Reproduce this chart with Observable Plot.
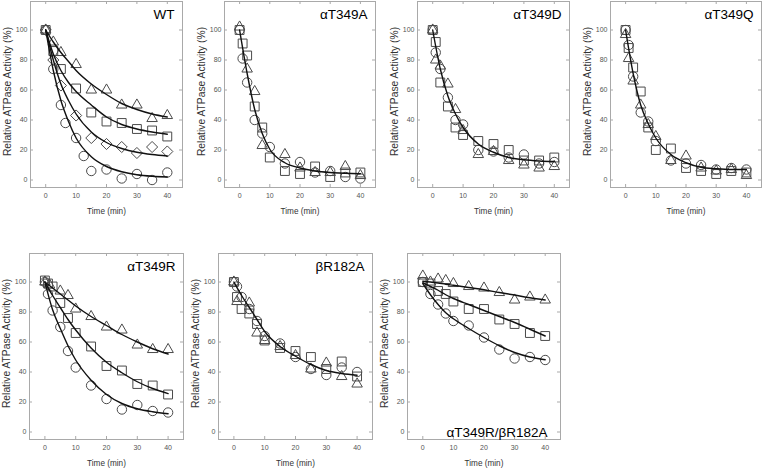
<!DOCTYPE html>
<html><head><meta charset="utf-8">
<script src="https://cdn.jsdelivr.net/npm/d3@7"></script>
<script src="https://cdn.jsdelivr.net/npm/@observablehq/plot@0.6"></script>
<style>
html,body{margin:0;padding:0;background:#fff;}
#chart{position:relative;width:763px;height:472px;overflow:hidden;background:#fff;}
#chart svg{position:absolute;}
</style></head><body><div id="chart"></div>
<script>
// ---------- shared labels / ticks ----------
const xTicks = [0, 10, 20, 30, 40];
const yTicks = [0, 20, 40, 60, 80, 100];
const yLabel = "Relative ATPase Activity (%)";
const xLabel = "Time (min)";
const panelTitles = ["WT", "αT349A", "αT349D", "αT349Q", "αT349R", "βR182A", "αT349R/βR182A"];
const fitTime = [0, 2.5, 5, 7.5, 10, 15, 20, 25, 30, 35, 40];
const sampleTime = [0, 1, 2.5, 5, 7.5, 10, 15, 20, 25, 30, 35, 40];

// ---------- WT ----------
const wtTriangleTime = [0, 2.5, 5, 10, 15, 20, 25, 30, 35, 40];
const wtTriangle = [100, 92, 85, 77, 60, 60, 50, 50, 41, 43];
const wtSquareTime = [0, 2.5, 5, 10, 15, 20, 25, 30, 35, 40];
const wtSquare = [100, 86, 74, 61, 45, 39, 38, 34, 33, 29];
const wtDiamondTime = [0, 2.5, 5, 10, 15, 20, 25, 30, 35, 40];
const wtDiamond = [100, 80, 63, 43, 28, 24, 22, 18, 22, 19];
const wtCircleTime = [0, 2.5, 5, 6.5, 10, 12.5, 15, 20, 25, 30, 35, 40];
const wtCircle = [100, 74, 50, 38, 28, 16, 6, 7, 1, 4, 0, 5];
const wtTriangleFit = [100, 92, 85, 79, 73, 64, 57, 51, 47, 44, 42];
const wtSquareFit = [100, 84, 73, 65, 59, 50, 42, 37, 34, 32, 30.5];
const wtDiamondFit = [100, 80, 64, 53, 44, 32, 25, 21, 18.5, 17, 16];
const wtCircleFit = [100, 73, 53, 39, 28, 15.5, 9, 5.5, 3.5, 2.5, 2];

// ---------- αT349A ----------
const aTriangleTime = [0, 2.5, 5, 7.5, 15, 20, 25, 30, 35, 40];
const aTriangle = [102, 74, 59, 23, 17, 8, 5, 5, 9, 3];
const aSquare = [100, 91, 83, 49, 35, 15, 6, 4, 9, 2, 5, 5];
const aCircle = [100, 81, 65, 40, 31, 22, 11, 12, 5, 6, 2, 1];
const aFit = [100, 71, 47, 31, 20.5, 11.5, 8, 6, 5, 4.5, 4.2];

// ---------- αT349D ----------
const dTriangle = [100, 80, 76, 64, 47, 33, 17, 19, 13, 10, 8, 9];
const dSquare = [100, 92, 65, 49, 35, 30, 26, 24, 20, 13, 13, 15];
const dCircle = [100, 85, 74, 55, 40, 37, 20, 19, 15, 17, 11, 12];
const dFit = [100, 74, 56, 44, 35, 24, 18.5, 15, 13.5, 12.7, 12.3];

// ---------- αT349Q ----------
const qTriangle = [97, 81, 66, 50, 37, 29, 13, 16, 8, 6, 7, 3];
const qSquare = [100, 88, 75, 59, 35, 20, 21, 8, 6, 4, 6, 5];
const qCircle = [100, 90, 69, 45, 39, 26, 13, 11, 10, 7, 8, 7];
const qFit = [100, 71, 50, 37.5, 28, 17, 11.5, 8.5, 7.5, 7, 7];

// ---------- αT349R ----------
const rTriangleTime = [0, 1.5, 5, 7.5, 10, 15, 20, 25, 30, 35, 40];
const rTriangle = [100, 98, 94, 91, 82, 77, 70, 68, 58, 55, 55];
const rSquare = [101, 99, 97, 86, 76, 66, 57, 44, 41, 32, 31, 25];
const rCircle = [100, 92, 81, 70, 54, 43, 31, 22, 15, 18, 14, 13];
const rTriangleFit = [100, 96, 92, 88, 84, 77, 71, 65, 60, 55.5, 52];
const rSquareFit = [100, 91, 83, 75, 68, 56, 46.5, 39.5, 33.5, 29, 25.6];
const rCircleFit = [100, 81.5, 69, 57.5, 48, 34.5, 25, 19, 15.5, 13.5, 12.2];

// ---------- βR182A ----------
const bTriangleTime = [0, 1, 5, 7.5, 10, 15, 20, 25, 30, 35, 40];
const bTriangle = [100, 87, 86, 66, 61, 57, 51, 42, 46, 37, 32];
const bSquare = [100, 90, 82, 79, 72, 61, 56, 54, 50, 42, 47, 37];
const bCircle = [100, 97, 90, 82, 74, 64, 59, 50, 42, 38, 43, 40];
const bFit = [100, 91, 83, 75, 67, 57, 50.5, 45, 41, 39, 37.8];

// ---------- αT349R/βR182A ----------
const rbTime = [0, 2.5, 5, 7.5, 10, 15, 20, 25, 30, 35, 40];
const rbTriangle = [104, 100, 102, 101, 99, 97, 96, 93, 88, 90, 88];
const rbSquare = [100, 99, 94, 92, 87, 82, 82, 75, 72, 66, 64];
const rbCircle = [100, 92, 85, 79, 74, 71, 63, 55, 49, 50, 48];
const rbTriangleFit = [100.5, 100, 99.3, 98.5, 97.8, 96.3, 94.8, 93, 91.3, 89.5, 88];
const rbSquareFit = [99.5, 97, 94.5, 91.5, 89, 85, 81, 77, 73, 68.5, 64];
const rbCircleFit = [99, 91.5, 85, 79.5, 75.5, 69, 63, 57.5, 53, 50, 48.2];

// ---------- build panel tables ----------
const toRows = (t, v) => t.map((x, i) => ({t: x, v: v[i]}));
const S = (sym, t, v) => ({symbol: sym, rows: toRows(t, v)});

const panels = [
  {title: panelTitles[0], frameLeft: 30, frameWidth: 152, row: 0, corner: "top",
   series: [S("triangle", wtTriangleTime, wtTriangle), S("square", wtSquareTime, wtSquare),
            S("diamond2", wtDiamondTime, wtDiamond), S("circle", wtCircleTime, wtCircle)],
   fits: [wtTriangleFit, wtSquareFit, wtDiamondFit, wtCircleFit]},
  {title: panelTitles[1], frameLeft: 224, frameWidth: 151, row: 0, corner: "top",
   series: [S("triangle", aTriangleTime, aTriangle), S("square", sampleTime, aSquare), S("circle", sampleTime, aCircle)],
   fits: [aFit]},
  {title: panelTitles[2], frameLeft: 416.5, frameWidth: 152, row: 0, corner: "top",
   series: [S("triangle", sampleTime, dTriangle), S("square", sampleTime, dSquare), S("circle", sampleTime, dCircle)],
   fits: [dFit]},
  {title: panelTitles[3], frameLeft: 610, frameWidth: 151, row: 0, corner: "top",
   series: [S("triangle", sampleTime, qTriangle), S("square", sampleTime, qSquare), S("circle", sampleTime, qCircle)],
   fits: [qFit]},
  {title: panelTitles[4], frameLeft: 29, frameWidth: 154, row: 1, corner: "top",
   series: [S("triangle", rTriangleTime, rTriangle), S("square", sampleTime, rSquare), S("circle", sampleTime, rCircle)],
   fits: [rTriangleFit, rSquareFit, rCircleFit]},
  {title: panelTitles[5], frameLeft: 218, frameWidth: 154, row: 1, corner: "top",
   series: [S("triangle", bTriangleTime, bTriangle), S("square", sampleTime, bSquare), S("circle", sampleTime, bCircle)],
   fits: [bFit]},
  {title: panelTitles[6], frameLeft: 406.5, frameWidth: 153, row: 1, corner: "bottom",
   series: [S("triangle", rbTime, rbTriangle), S("square", rbTime, rbSquare), S("circle", rbTime, rbCircle)],
   fits: [rbTriangleFit, rbSquareFit, rbCircleFit]}
];

const rowsLayout = [{top: 0, marginTop: 1, height: 230}, {top: 240, marginTop: 13, height: 232}];
const frameH = 186;
const grey = "#a9a9a9";
const symbolR = {circle: 4.7, square: 5, triangle: 3.9, diamond2: 5};
const chart = document.getElementById("chart");

for (const p of panels) {
  const row = rowsLayout[p.row];
  const mL = 36, mR = 1;
  const fw = p.frameWidth;
  const marks = [
    Plot.frame({stroke: grey}),
    Plot.tickY(yTicks, {y: d => d, insetRight: fw - 3, stroke: grey}),
    Plot.tickY(yTicks, {y: d => d, insetLeft: fw - 3, stroke: grey}),
    Plot.tickX(xTicks, {x: d => d, insetTop: frameH - 3, stroke: grey}),
    Plot.tickX(xTicks, {x: d => d, insetBottom: frameH - 3, stroke: grey}),
    Plot.axisY({ticks: yTicks, tickSize: 0, tickPadding: 3, fontSize: 7, color: "#555", label: null}),
    Plot.axisX({ticks: xTicks, tickSize: 0, tickPadding: 6, fontSize: 7, color: "#555", label: null}),
    Plot.text([yLabel], {text: d => d, frameAnchor: "left", textAnchor: "middle", rotate: -90,
      dx: -23, dy: -3, fontSize: 10.3, fill: "#333"}),
    Plot.text([xLabel], {text: d => d, frameAnchor: "bottom", dy: 26, fontSize: 8.2, fill: "#333"})
  ];
  for (const s of p.series) {
    marks.push(Plot.dot(s.rows, {x: "t", y: "v", symbol: s.symbol, r: symbolR[s.symbol],
      stroke: "#4a4a4a", strokeWidth: 1, fill: "none"}));
  }
  for (const f of p.fits) {
    marks.push(Plot.line(toRows(fitTime, f), {x: "t", y: "v", curve: "monotone-x", stroke: "#111", strokeWidth: 1.4}));
  }
  if (p.corner === "top") {
    marks.push(Plot.text([p.title], {text: d => d, frameAnchor: "top-right", textAnchor: "end",
      lineAnchor: "middle", dx: -8, dy: 13.4, fontSize: 13.5, fill: "#000"}));
  } else {
    marks.push(Plot.text([p.title], {text: d => d, frameAnchor: "bottom-right", textAnchor: "end",
      lineAnchor: "middle", dx: -13, dy: -7.3, fontSize: 13.5, fill: "#000"}));
  }
  const svg = Plot.plot({
    width: mL + fw + mR,
    height: row.height,
    marginLeft: mL, marginRight: mR,
    marginTop: row.marginTop, marginBottom: row.height - row.marginTop - frameH,
    x: {domain: [-5, 45]},
    y: {domain: [-5, 119]},
    style: {fontFamily: "'Liberation Sans', Arial, sans-serif", background: "none", overflow: "visible"},
    marks
  });
  svg.style.left = (p.frameLeft - mL) + "px";
  svg.style.top = row.top + "px";
  chart.appendChild(svg);
}
</script></body></html>
